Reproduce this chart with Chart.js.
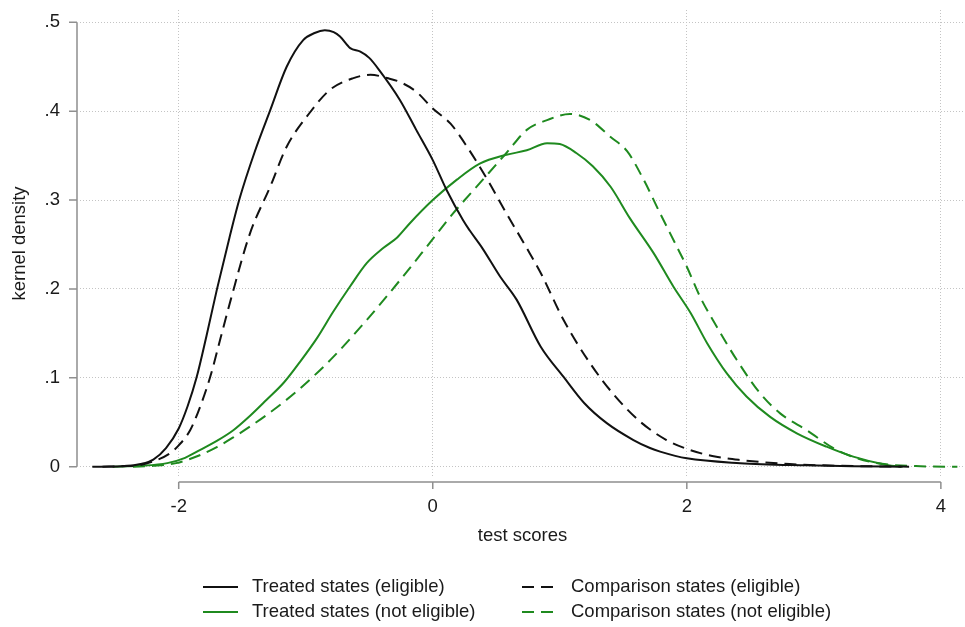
<!DOCTYPE html>
<html>
<head>
<meta charset="utf-8">
<title>kernel density of test scores</title>
<script src="https://cdn.jsdelivr.net/npm/chart.js@4.4.1/dist/chart.umd.min.js"></script>
<style>
  html, body { margin: 0; padding: 0; background: #fff; }
  #wrap { width: 965px; height: 627px; }
</style>
</head>
<body>
<div id="wrap"><canvas id="density" width="965" height="627"></canvas></div>
<script>
// kernel density estimates, evaluated on each group's own score grid
const treatedEligX = [-2.68, -2.45, -2.3, -2.2, -2.1, -2.0, -1.93, -1.86, -1.78, -1.7, -1.6, -1.52, -1.4, -1.28, -1.15, -1.02, -0.93, -0.85, -0.78, -0.73, -0.65, -0.57, -0.5, -0.42, -0.26, -0.13, 0.0, 0.11, 0.24, 0.29, 0.39, 0.53, 0.66, 0.85, 1.03, 1.19, 1.37, 1.58, 1.71, 1.79, 2.0, 2.42, 2.94, 3.3, 3.69];
const treatedEligY = [0, 0.0005, 0.003, 0.008, 0.021, 0.043, 0.068, 0.1, 0.148, 0.199, 0.258, 0.302, 0.355, 0.401, 0.45, 0.48, 0.488, 0.491, 0.489, 0.484, 0.471, 0.467, 0.46, 0.446, 0.413, 0.379, 0.345, 0.311, 0.277, 0.266, 0.246, 0.214, 0.188, 0.135, 0.101, 0.072, 0.049, 0.03, 0.021, 0.017, 0.0094, 0.004, 0.0015, 0.0005, 0];

const compEligX = [-2.6, -2.45, -2.3, -2.2, -2.07, -2.0, -1.91, -1.83, -1.75, -1.67, -1.59, -1.44, -1.28, -1.15, -0.97, -0.81, -0.63, -0.49, -0.35, -0.26, -0.13, 0.0, 0.14, 0.27, 0.43, 0.58, 0.74, 0.85, 1.03, 1.24, 1.42, 1.63, 1.84, 2.0, 2.2, 2.42, 2.81, 3.2, 3.75];
const compEligY = [0, 0.0005, 0.002, 0.006, 0.015, 0.024, 0.041, 0.068, 0.102, 0.145, 0.188, 0.262, 0.315, 0.36, 0.398, 0.424, 0.437, 0.441, 0.437, 0.433, 0.422, 0.403, 0.386, 0.36, 0.323, 0.285, 0.246, 0.218, 0.165, 0.116, 0.082, 0.051, 0.03, 0.02, 0.012, 0.0075, 0.003, 0.001, 0];

const treatedNotEligX = [-2.52, -2.3, -2.09, -1.95, -1.83, -1.7, -1.57, -1.44, -1.31, -1.17, -1.045, -0.91, -0.785, -0.65, -0.52, -0.39, -0.28, -0.18, 0.0, 0.19, 0.37, 0.58, 0.74, 0.9, 1.0, 1.13, 1.26, 1.4, 1.55, 1.74, 1.895, 2.03, 2.16, 2.315, 2.47, 2.656, 2.866, 3.1, 3.31, 3.575, 3.7];
const treatedNotEligY = [0, 0.001, 0.004, 0.01, 0.019, 0.029, 0.041, 0.057, 0.075, 0.095, 0.118, 0.145, 0.174, 0.203, 0.229, 0.246, 0.258, 0.274, 0.3, 0.323, 0.341, 0.351, 0.356, 0.364, 0.363, 0.353, 0.338, 0.315, 0.28, 0.24, 0.2025, 0.173, 0.139, 0.105, 0.079, 0.056, 0.0376, 0.0225, 0.0113, 0.002, 0];

const compNotEligX = [-2.36, -2.2, -2.02, -1.85, -1.7, -1.57, -1.44, -1.31, -1.18, -1.045, -0.8, -0.52, -0.257, -0.05, 0.16, 0.37, 0.58, 0.74, 0.9, 1.08, 1.24, 1.4, 1.53, 1.66, 1.79, 1.92, 2.0, 2.105, 2.236, 2.394, 2.577, 2.735, 2.945, 3.18, 3.44, 3.84, 4.13];
const compNotEligY = [0, 0.001, 0.004, 0.012, 0.022, 0.033, 0.045, 0.058, 0.072, 0.088, 0.121, 0.165, 0.21, 0.247, 0.285, 0.319, 0.353, 0.379, 0.39, 0.397, 0.39, 0.371, 0.355, 0.323, 0.285, 0.248, 0.225, 0.191, 0.1575, 0.12, 0.0826, 0.06, 0.041, 0.0188, 0.0056, 0.0005, 0];

const seriesLabels = [
  'Treated states (eligible)',
  'Comparison states (eligible)',
  'Treated states (not eligible)',
  'Comparison states (not eligible)'
];

const xTicks = [-2, 0, 2, 4];
const yTicks = [0, 0.1, 0.2, 0.3, 0.4, 0.5];
const yTickLabels = ['0', '.1', '.2', '.3', '.4', '.5'];

const BLACK = '#111111';
const GREEN = '#1f8a1f';
const DASH = [12, 7];
const FONT = "'Liberation Sans', Arial, sans-serif";

const toPoints = (xs, ys) => xs.map((x, i) => ({ x: x, y: ys[i] }));

function curve(label, xs, ys, color, dash) {
  return {
    label: label,
    data: toPoints(xs, ys),
    borderColor: color,
    backgroundColor: color,
    borderWidth: 2,
    borderDash: dash,
    pointRadius: 0,
    fill: false,
    cubicInterpolationMode: 'monotone'
  };
}

// Stata-style axes: detached from the plot region, spanning only the labelled range
const detachedAxes = {
  id: 'detachedAxes',
  afterDraw(chart) {
    const { ctx, chartArea, scales: { x, y } } = chart;
    ctx.save();
    ctx.strokeStyle = '#8f8f8f';
    ctx.lineWidth = 1.5;
    ctx.setLineDash([]);
    ctx.beginPath();

    const ax = chartArea.left - 3;
    ctx.moveTo(ax, y.getPixelForValue(yTicks[0]));
    ctx.lineTo(ax, y.getPixelForValue(yTicks[yTicks.length - 1]));
    yTicks.forEach(v => {
      const py = y.getPixelForValue(v);
      ctx.moveTo(ax - 8, py);
      ctx.lineTo(ax, py);
    });

    const ay = chartArea.bottom + 5;
    ctx.moveTo(x.getPixelForValue(xTicks[0]), ay);
    ctx.lineTo(x.getPixelForValue(xTicks[xTicks.length - 1]), ay);
    xTicks.forEach(v => {
      const px = x.getPixelForValue(v);
      ctx.moveTo(px, ay);
      ctx.lineTo(px, ay + 7);
    });

    ctx.stroke();
    ctx.restore();
  }
};

// two-column legend under the plot, keys drawn with each curve's own stroke
const gridLegend = {
  id: 'gridLegend',
  afterDraw(chart) {
    const { ctx } = chart;
    const keyX = [203, 522];
    const rowY = [587, 612];
    ctx.save();
    ctx.font = '18.5px ' + FONT;
    ctx.textBaseline = 'middle';
    ctx.textAlign = 'left';
    chart.data.datasets.forEach((ds, i) => {
      const kx = keyX[i % 2];
      const ky = rowY[Math.floor(i / 2)];
      ctx.strokeStyle = ds.borderColor;
      ctx.lineWidth = ds.borderWidth;
      ctx.setLineDash(ds.borderDash || []);
      ctx.beginPath();
      ctx.moveTo(kx, ky);
      ctx.lineTo(kx + 35, ky);
      ctx.stroke();
      ctx.fillStyle = '#1a1a1a';
      ctx.fillText(ds.label, kx + 49, ky);
    });
    ctx.restore();
  }
};

const datasets = [
  curve(seriesLabels[0], treatedEligX, treatedEligY, BLACK, []),
  curve(seriesLabels[1], compEligX, compEligY, BLACK, DASH),
  curve(seriesLabels[2], treatedNotEligX, treatedNotEligY, GREEN, []),
  curve(seriesLabels[3], compNotEligX, compNotEligY, GREEN, DASH)
];

const gridStyle = { color: '#c4c4c4', lineWidth: 1, drawTicks: false };

new Chart(document.getElementById('density'), {
  type: 'line',
  data: { datasets: datasets },
  options: {
    responsive: false,
    animation: false,
    layout: { padding: { top: 10, right: 0, bottom: 0, left: 0 } },
    plugins: {
      legend: { display: false },
      tooltip: { enabled: false }
    },
    scales: {
      x: {
        type: 'linear',
        min: -2.777,
        max: 4.19,
        afterFit(scale) {
          scale.height = 150;
          scale.paddingLeft = 0;
          scale.paddingRight = 0;
        },
        afterBuildTicks(scale) { scale.ticks = xTicks.map(v => ({ value: v })); },
        grid: gridStyle,
        border: { display: false, dash: [1, 2] },
        ticks: {
          padding: 19,
          color: '#1a1a1a',
          font: { family: FONT, size: 18.5 },
          maxRotation: 0,
          callback: v => String(v)
        },
        title: {
          display: true,
          text: 'test scores',
          color: '#1a1a1a',
          font: { family: FONT, size: 18.5 },
          padding: { top: 0, bottom: 80 }
        }
      },
      y: {
        type: 'linear',
        min: -0.0116,
        max: 0.5139,
        afterFit(scale) {
          scale.width = 80;
          scale.paddingTop = 0;
          scale.paddingBottom = 0;
        },
        afterBuildTicks(scale) { scale.ticks = yTicks.map(v => ({ value: v })); },
        grid: gridStyle,
        border: { display: false, dash: [1, 2] },
        ticks: {
          padding: 20,
          color: '#1a1a1a',
          font: { family: FONT, size: 18.5 },
          callback: v => yTickLabels[yTicks.indexOf(v)]
        },
        title: {
          display: true,
          text: 'kernel density',
          color: '#1a1a1a',
          font: { family: FONT, size: 18.5 },
          padding: { top: 9, bottom: 0 }
        }
      }
    }
  },
  plugins: [detachedAxes, gridLegend]
});
</script>
</body>
</html>
